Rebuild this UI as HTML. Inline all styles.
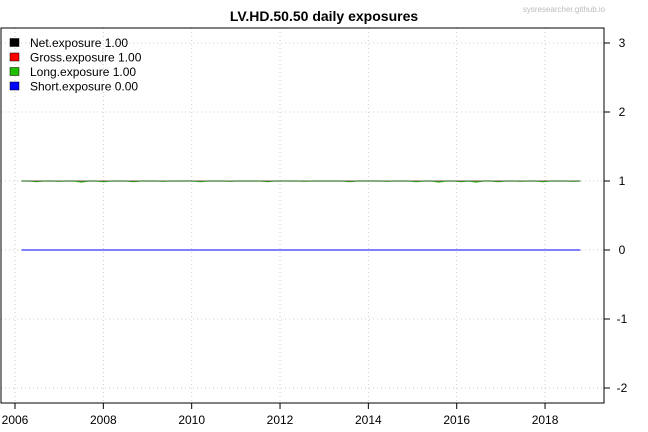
<!DOCTYPE html>
<html><head><meta charset="utf-8"><style>
body{margin:0;background:#fff;width:648px;height:432px;overflow:hidden}
svg{display:block;font-family:"Liberation Sans",Arial,sans-serif}
</style></head><body>
<svg id="c" width="648" height="432">
<text x="324" y="21" text-anchor="middle" font-size="14" font-weight="bold">LV.HD.50.50 daily exposures</text>
<text x="564" y="12" text-anchor="middle" font-size="8" fill="#bbb">sysresearcher.github.io</text>
<g id="grid"></g>
<g id="series"></g>
<rect x="1" y="28" width="603" height="375" fill="none" stroke="#000" stroke-width="1"/>
<g id="axes"></g>
<g id="legend"></g>
</svg>
<script>
const xTicks=[2006,2008,2010,2012,2014,2016,2018];
const yTicks=[-2,-1,0,1,2,3];
const startYear=2006.15, endYear=2018.8;
const longVals=[1,1,0.99,1,1,0.995,1,1,0.985,1,1,0.99,1,1,1,0.99,1,1,1,0.995,1,1,1,1,0.99,1,1,1,0.995,1,1,1,1,0.99,1,1,1,1,0.995,1,1,1,1,1,0.99,1,1,1,1,0.995,1,1,1,0.99,1,1,0.985,1,1,0.99,1,0.985,1,1,0.99,1,1,0.995,1,1,0.99,1,1,1,0.995,1];
const netVals=longVals.map(v=>1);
const grossVals=longVals.map(v=>1);
const shortVals=longVals.map(v=>0);
const legendLabels=["Net.exposure 1.00","Gross.exposure 1.00","Long.exposure 1.00","Short.exposure 0.00"];
const legendColors=["#000","#f00","#1fbf00","#00f"];

const xs=y=>15+(y-2006)*44.17;
const ys=v=>250-v*69;
const ns="http://www.w3.org/2000/svg";
function mk(t,p,a){const e=document.createElementNS(ns,t);for(const k in a)e.setAttribute(k,a[k]);p.appendChild(e);return e;}
const grid=document.getElementById('grid'),axes=document.getElementById('axes'),ser=document.getElementById('series'),leg=document.getElementById('legend');
xTicks.forEach(t=>{
  const g=mk('line',grid,{x1:xs(t),x2:xs(t),y1:28,y2:403,stroke:'#ccc','stroke-dasharray':'1,3'});
  
  
  const tk=mk('line',axes,{x1:xs(t),x2:xs(t),y1:403,y2:409,stroke:'#000'});
  
  
  const tx=mk('text',axes,{x:xs(t),y:424,'text-anchor':'middle','font-size':12});
  tx.textContent=t;
  
  
});
yTicks.forEach(t=>{
  const g=mk('line',grid,{x1:1,x2:604,y1:ys(t),y2:ys(t),stroke:'#ccc','stroke-dasharray':'1,3'});
  
  
  const tk=mk('line',axes,{x1:604,x2:610,y1:ys(t),y2:ys(t),stroke:'#000'});
  
  
  const tx=mk('text',axes,{x:622,y:ys(t)+4,'text-anchor':'middle','font-size':12});
  tx.textContent=t;
  
  
});
function line(vals,color,name,w){
  const n=vals.length;
  const pts=vals.map((v,i)=>xs(startYear+(endYear-startYear)*i/(n-1)).toFixed(1)+','+ys(v).toFixed(1)).join(' ');
  const p=mk('polyline',ser,{points:pts,fill:'none',stroke:color,'stroke-width':w});
  
  
}
line(grossVals,'#f00','gross-exposure-line',1);
line(longVals,'#1fbf00','long-exposure-line',1.2);
line(netVals,'#555','net-exposure-line',0.8);
line(shortVals,'#00f','short-exposure-line',1);
legendLabels.forEach((l,i)=>{
  const y=43+i*14.5;
  const r=mk('rect',leg,{x:10,y:y-4.5,width:9,height:8,fill:legendColors[i],stroke:'#000','stroke-width':0.5});
  
  
  const t=mk('text',leg,{x:30,y:y+4,'font-size':12});
  t.textContent=l;
  
  
});
</script>
</body></html>
